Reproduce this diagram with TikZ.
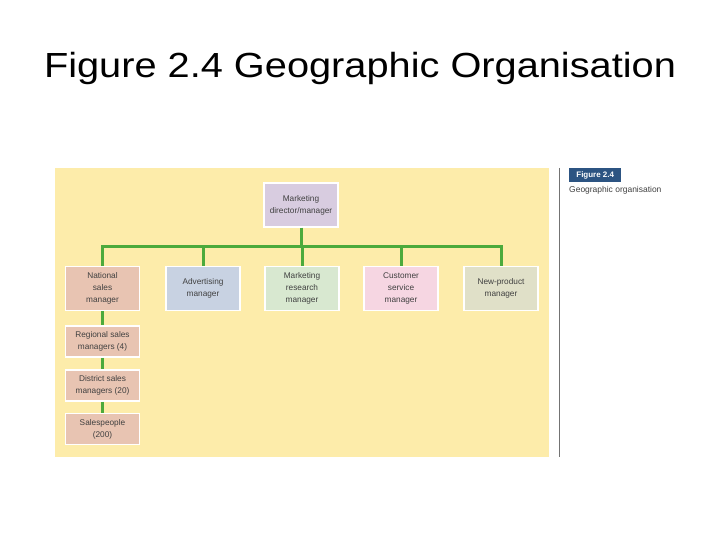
\documentclass[tikz,border=0pt]{standalone}
\usepackage{fontspec}
\setmainfont{Liberation Sans}
\newfontfamily\titlefont{Liberation Sans}[FakeStretch=1.14]
\usetikzlibrary{positioning}

\definecolor{panel}{RGB}{253,236,170}
\definecolor{bus}{RGB}{76,170,60}
\definecolor{dircol}{RGB}{216,204,224}
\definecolor{salescol}{RGB}{232,196,178}
\definecolor{advcol}{RGB}{200,210,226}
\definecolor{rescol}{RGB}{216,232,208}
\definecolor{custcol}{RGB}{246,214,226}
\definecolor{newcol}{RGB}{224,224,200}
\definecolor{figblue}{RGB}{44,84,130}

\begin{document}
\begin{tikzpicture}[x=1bp, y=-1bp,
    box/.style={draw=white, line width=1.5bp, minimum width=74bp, minimum height=44bp,
        align=center, font=\fontsize{8.3}{12}\selectfont, text=black!75, inner sep=1bp},
    small/.style={box, minimum height=31bp},
    link/.style={draw=bus, line width=3bp}]
    \useasboundingbox (0,0) rectangle (720,540);

    % title
    \node[anchor=base, inner sep=0pt] (title) at (360,78) {\titlefont\fontsize{35}{40}\selectfont Figure 2.4 Geographic Organisation};

    % panel
    \fill[panel] (55,168) rectangle (549,457);
    \draw[black!55, line width=0.8bp] (559,168) -- (559,457);
    \node[fill=figblue, text=white, font=\fontsize{8}{9}\selectfont\bfseries, minimum width=52bp, minimum height=14bp, inner sep=1bp, anchor=north west] (fig) at (569,168) {Figure 2.4};
    \node[font=\fontsize{8.5}{9}\selectfont, text=black!75, anchor=north west, inner sep=0pt] (cap) at (569,186) {Geographic organisation};

    % boxes
    \node[box, fill=dircol] (dir) at (301,205) {Marketing\\director/manager};
    \node[box, fill=salescol] (nat) at (102.5,288.5) {National\\sales\\manager};
    \node[box, fill=advcol] (adv) at (203,288.5) {Advertising\\manager};
    \node[box, fill=rescol] (res) at (302,288.5) {Marketing\\research\\manager};
    \node[box, fill=custcol] (cust) at (401,288.5) {Customer\\service\\manager};
    \node[box, fill=newcol] (newp) at (501,288.5) {New-product\\manager};
    \node[small, fill=salescol] (reg) at (102.5,341.5) {Regional sales\\managers (4)};
    \node[small, fill=salescol] (dist) at (102.5,385.5) {District sales\\managers (20)};
    \node[small, fill=salescol] (sp) at (102.5,429) {Salespeople\\(200)};

    % connectors
    \coordinate (hub) at (301,247);
    \draw[link] (dir) -- (hub);
    \draw[link] (hub) -| (nat);
    \draw[link] (hub) -| (adv);
    \draw[link] (hub) -| (res);
    \draw[link] (hub) -| (cust);
    \draw[link] (hub) -| (newp);
    \draw[link] (nat) -- (reg);
    \draw[link] (reg) -- (dist);
    \draw[link] (dist) -- (sp);
\end{tikzpicture}
\end{document}
